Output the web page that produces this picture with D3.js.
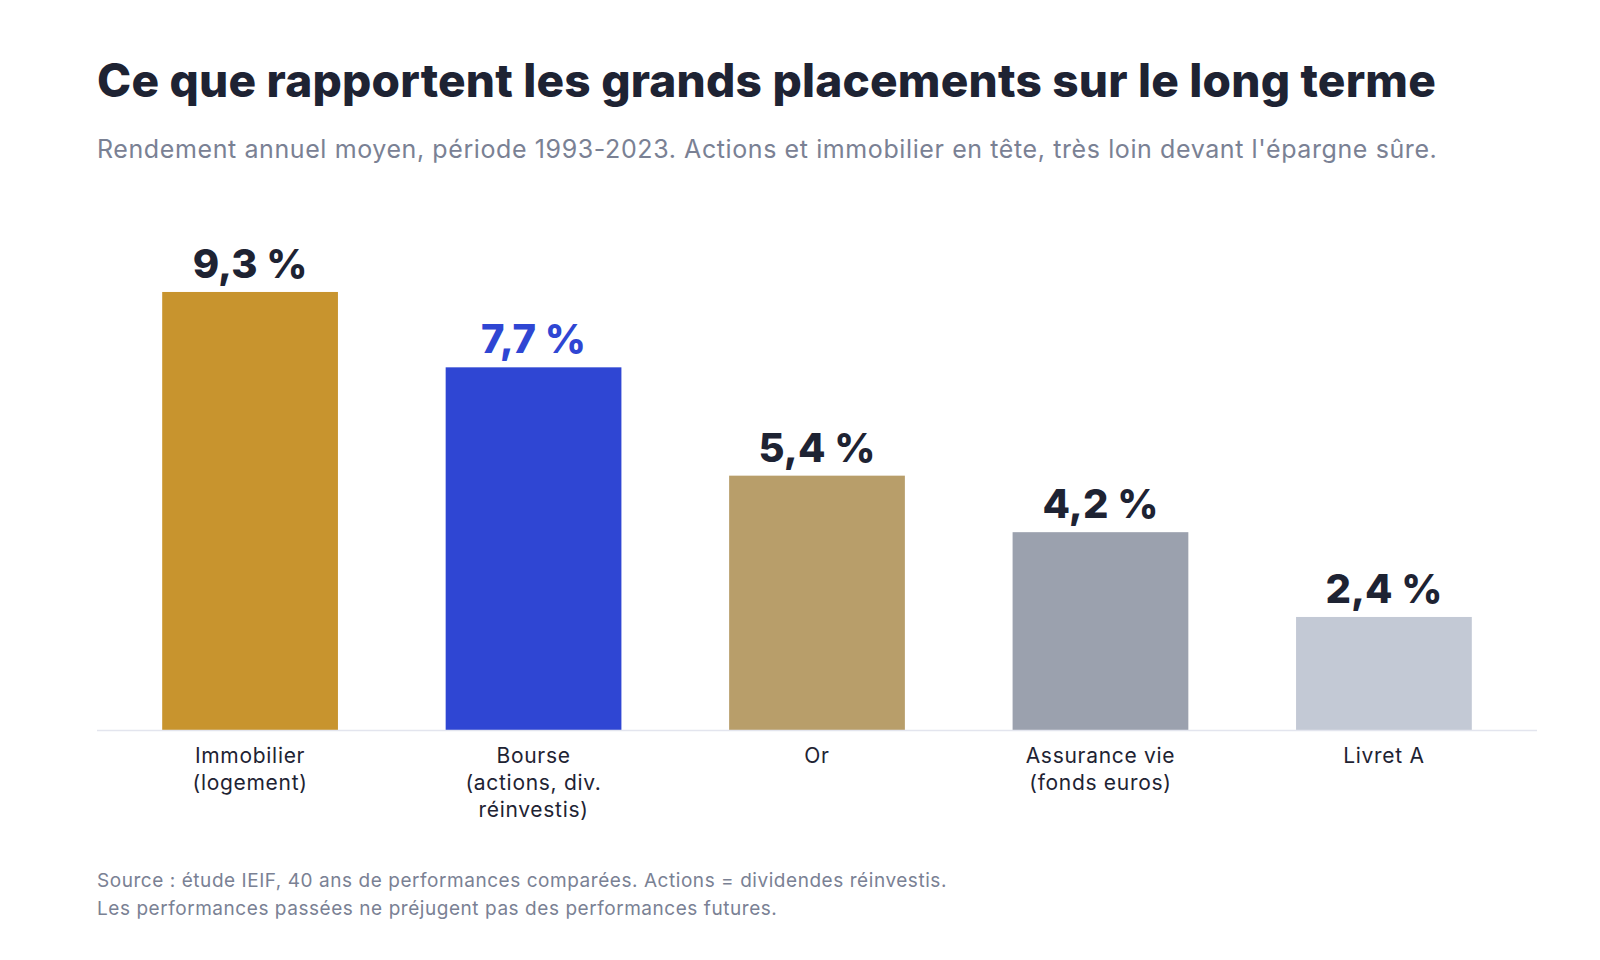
<!DOCTYPE html>
<html lang="fr">
<head>
<meta charset="utf-8">
<script src="https://cdn.jsdelivr.net/npm/d3@7"></script>
<style>
  html, body { margin: 0; padding: 0; background: #ffffff; }
  svg text { font-family: "Inter", "Noto Sans", sans-serif; }
</style>
</head>
<body>
<div id="chart"></div>
<script>
// donnees
var categories = ["Immobilier|(logement)", "Bourse|(actions, div.|réinvestis)", "Or", "Assurance vie|(fonds euros)", "Livret A"];
var valeurs = [9.3, 7.7, 5.4, 4.2, 2.4];
var etiquettes = ["9,3 %", "7,7 %", "5,4 %", "4,2 %", "2,4 %"];
var couleurs = ["#c8942e", "#2f46d3", "#b89e6a", "#9ba1ae", "#c3c9d5"];
var couleursTexte = ["#1e2333", "#2f46d3", "#1e2333", "#1e2333", "#1e2333"];

var titre = "Ce que rapportent les grands placements sur le long terme";
var sousTitre = "Rendement annuel moyen, période 1993-2023. Actions et immobilier en tête, très loin devant l'épargne sûre.";
var notes = ["Source : étude IEIF, 40 ans de performances comparées. Actions = dividendes réinvestis.",
             "Les performances passées ne préjugent pas des performances futures."];

var W = 1600, H = 960;
var margin = {left: 97, right: 63, baseline: 730};

var svg = d3.select("#chart").append("svg")
    .attr("width", W)
    .attr("height", H);

// titre + sous-titre
svg.append("text")
    .attr("x", margin.left).attr("y", 97)
    .attr("font-size", 46).attr("font-weight", 800)
    .attr("letter-spacing", 0.2)
    .attr("fill", "#1e2333")
    .text(titre);

svg.append("text")
    .attr("x", margin.left).attr("y", 158)
    .attr("font-size", 25).attr("font-weight", 400)
    .attr("letter-spacing", 0.6)
    .attr("fill", "#7a8194")
    .text(sousTitre);

// echelles
var x = d3.scaleBand()
    .domain(categories)
    .range([margin.left, W - margin.right])
    .paddingInner(0.38)
    .paddingOuter(0.23);

var y = d3.scaleLinear()
    .domain([0, 10])
    .range([margin.baseline, 259]);

// barres
svg.selectAll("rect.barre")
    .data(valeurs)
    .enter().append("rect")
    .attr("class", "barre")
    .attr("x", function(d, i) { return x(categories[i]); })
    .attr("y", function(d) { return y(d); })
    .attr("width", x.bandwidth())
    .attr("height", function(d) { return y(0) - y(d); })
    .attr("fill", function(d, i) { return couleurs[i]; });

// valeurs au dessus
svg.selectAll("text.valeur")
    .data(valeurs)
    .enter().append("text")
    .attr("class", "valeur")
    .attr("x", function(d, i) { return x(categories[i]) + x.bandwidth() / 2; })
    .attr("y", function(d) { return y(d) - 14; })
    .attr("text-anchor", "middle")
    .attr("font-size", 40).attr("font-weight", 800)
    .attr("fill", function(d, i) { return couleursTexte[i]; })
    .text(function(d, i) { return etiquettes[i]; });

// ligne de base
svg.append("line")
    .attr("x1", margin.left).attr("x2", W - margin.right)
    .attr("y1", y(0) + 0.5).attr("y2", y(0) + 0.5)
    .attr("stroke", "#e3e5ee").attr("stroke-width", 1.5);

// libelles des categories (multi-lignes)
var libelles = svg.selectAll("text.cat")
    .data(categories)
    .enter().append("text")
    .attr("class", "cat")
    .attr("text-anchor", "middle")
    .attr("font-size", 21)
    .attr("letter-spacing", 0.7)
    .attr("fill", "#1e2333")
    .attr("transform", function(d) { return "translate(" + (x(d) + x.bandwidth() / 2) + "," + (y(0) + 33) + ")"; });

libelles.each(function(d) {
    var t = d3.select(this);
    d.split("|").forEach(function(l, k) {
        t.append("tspan").attr("x", 0).attr("dy", k == 0 ? 0 : 27).text(l);
    });
});

// notes en bas
svg.selectAll("text.note")
    .data(notes)
    .enter().append("text")
    .attr("class", "note")
    .attr("x", margin.left)
    .attr("y", function(d, i) { return 887 + i * 28; })
    .attr("font-size", 19)
    .attr("letter-spacing", 0.55)
    .attr("fill", "#7a8194")
    .text(function(d) { return d; });
</script>
</body>
</html>
